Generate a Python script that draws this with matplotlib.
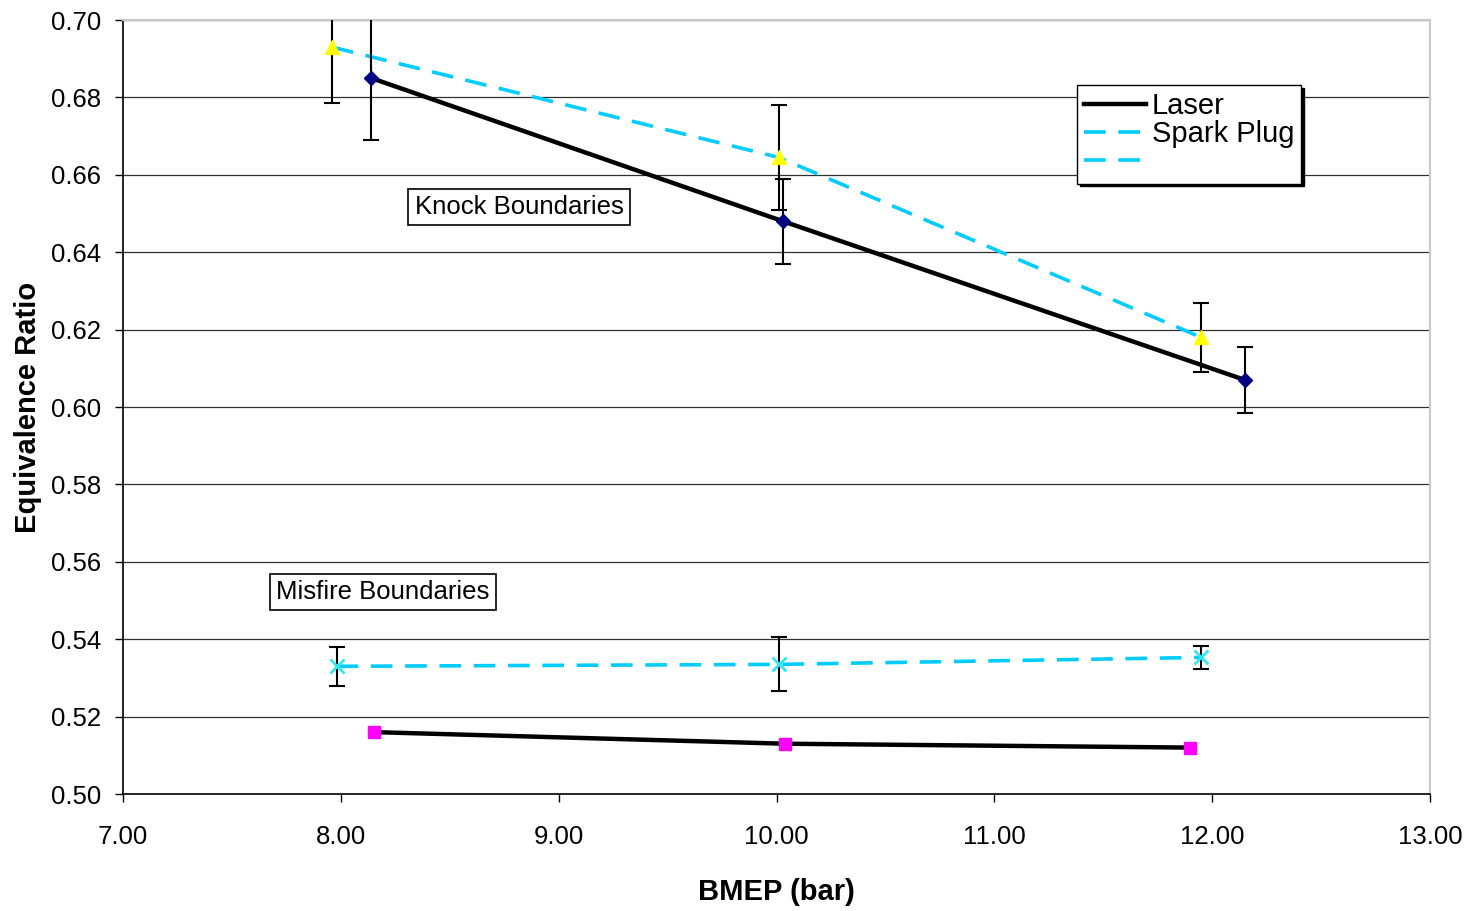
import matplotlib.pyplot as plt

plt.rcParams['font.family'] = ['Liberation Sans', 'DejaVu Sans']

# knock boundaries
knock_laser_x = [8.14, 10.03, 12.15]
knock_laser_y = [0.685, 0.648, 0.607]
knock_laser_err = [0.016, 0.011, 0.0085]

knock_spark_x = [7.96, 10.01, 11.95]
knock_spark_y = [0.693, 0.6645, 0.618]
knock_spark_err = [0.0145, 0.0135, 0.009]

# misfire boundaries
misfire_laser_x = [8.15, 10.04, 11.90]
misfire_laser_y = [0.516, 0.513, 0.512]

misfire_spark_x = [7.98, 10.01, 11.95]
misfire_spark_y = [0.533, 0.5335, 0.5353]
misfire_spark_err = [0.005, 0.007, 0.003]

xticks = [7, 8, 9, 10, 11, 12, 13]
yticks = [0.50, 0.52, 0.54, 0.56, 0.58, 0.60, 0.62, 0.64, 0.66, 0.68, 0.70]

cyan = '#00CCFF'

fig = plt.figure(figsize=(14.7, 9.11), dpi=100)
ax = fig.add_axes([0.0837, 0.1284, 0.8891, 0.8496])

for y in yticks[1:]:
    ax.axhline(y, color='#303030', lw=0.9, zorder=0)

eb_kw = dict(fmt='none', ecolor='black', elinewidth=1.5, capsize=6, capthick=1.5, zorder=4)

ln_laser, = ax.plot(knock_laser_x, knock_laser_y, color='black', lw=3.2, zorder=3)
ax.plot(knock_laser_x, knock_laser_y, ls='none', marker='D', ms=7, color='#000080', zorder=5)
ax.errorbar(knock_laser_x, knock_laser_y, yerr=knock_laser_err, **eb_kw)

ln_spark, = ax.plot(knock_spark_x, knock_spark_y, color=cyan, lw=2.6, dashes=(6, 3.5), zorder=3)
ax.plot(knock_spark_x, knock_spark_y, ls='none', marker='^', ms=10, color='#FFFF00', zorder=5)
ax.errorbar(knock_spark_x, knock_spark_y, yerr=knock_spark_err, **eb_kw)

ax.plot(misfire_laser_x, misfire_laser_y, color='black', lw=3.2, zorder=3)
ax.plot(misfire_laser_x, misfire_laser_y, ls='none', marker='s', ms=8.5, color='#FF00FF', zorder=5)

ax.plot(misfire_spark_x, misfire_spark_y, color=cyan, lw=2.6, dashes=(6, 3.5), zorder=3)
ax.plot(misfire_spark_x, misfire_spark_y, ls='none', marker='x', ms=10, mew=2, color='#33E6F0', zorder=5)
ax.errorbar(misfire_spark_x, misfire_spark_y, yerr=misfire_spark_err, **eb_kw)

ax.set_xlim(7, 13)
ax.set_ylim(0.50, 0.70)
ax.set_xticks(xticks)
ax.set_xticklabels(['%.2f' % v for v in xticks])
ax.set_yticks(yticks)
ax.set_yticklabels(['%.2f' % v for v in yticks])
ax.tick_params(direction='out', length=6, width=1, labelsize=18.5, colors='black')
ax.tick_params(axis='x', pad=16)
ax.tick_params(axis='y', pad=10)

for s in ['left', 'bottom']:
    ax.spines[s].set_color('black')
    ax.spines[s].set_linewidth(1.2)
for s in ['top', 'right']:
    ax.spines[s].set_color('#c8c8c8')
    ax.spines[s].set_linewidth(1.5)

ax.set_xlabel('BMEP (bar)', fontsize=21, fontweight='bold')
ax.xaxis.set_label_coords(0.5, -0.109)
ax.set_ylabel('Equivalence Ratio', fontsize=21, fontweight='bold')
ax.yaxis.set_label_coords(-0.062, 0.5)

box = dict(boxstyle='square,pad=0.25', fc='white', ec='black', lw=1.2)
ax.text(8.818, 0.6517, 'Knock Boundaries', fontsize=18.5, ha='center', va='center', bbox=box, zorder=6)
ax.text(8.194, 0.5522, 'Misfire Boundaries', fontsize=18.5, ha='center', va='center', bbox=box, zorder=6)

# third row is the spark plug line again with no label
leg = ax.legend([ln_laser, ln_spark, ln_spark], ['Laser', 'Spark Plug', ''],
                loc='upper left', bbox_to_anchor=(0.730, 0.916), fontsize=21,
                frameon=True, fancybox=False, edgecolor='black', framealpha=1,
                labelspacing=0.0, handlelength=2.1, handletextpad=0.2,
                borderpad=0.25, borderaxespad=0,
                shadow={'color': 'black', 'alpha': 1})
leg.get_frame().set_linewidth(1.0)
leg.set_zorder(7)

fig.savefig('out.png', dpi=100)
